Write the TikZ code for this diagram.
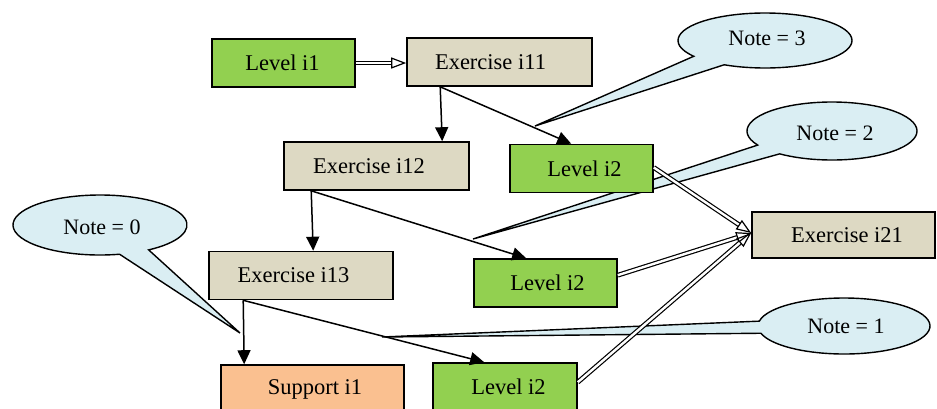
\documentclass[tikz,border=0pt]{standalone}
\usepackage{fontspec}
\setmainfont{Liberation Serif}
\usetikzlibrary{arrows.meta,calc}
\definecolor{lvlgreen}{HTML}{92D050}
\definecolor{extan}{HTML}{DDD9C3}
\definecolor{suporange}{HTML}{FAC090}
\definecolor{noteblue}{HTML}{DAEEF3}

\begin{document}
\begin{tikzpicture}[x=1pt,y=-1pt,
  box/.style={draw=black, line width=1.6pt, minimum height=48pt, inner sep=0pt},
  level/.style={box, fill=lvlgreen, minimum width=143pt},
  exer/.style={box, fill=extan, minimum width=185pt},
  supp/.style={box, fill=suporange, minimum width=183pt},
  boxtext/.style={font=\fontsize{22.5}{27}\selectfont, inner sep=0pt},
  note/.style={fill=noteblue, draw=black, line width=1.4pt, line join=miter},
  notetext/.style={font=\fontsize{22}{26}\selectfont, inner sep=0pt},
  link/.style={draw=black, line width=1.5pt, -{Triangle[length=14pt,width=13pt]}},
  flow/.style={draw=black, line width=1.2pt, double=white, double distance=2.4pt,
               -{Triangle[open, length=15pt, width=11pt]}},
]
\useasboundingbox (0,0) rectangle (937,408);
\clip (0,0) rectangle (937,408);

% ---- speech-bubble notes (drawn first, boxes sit on top of the tails)
\coordinate (c3) at (765,40.5);  \coordinate (t3) at (535,126);
\coordinate (c2) at (832,131);   \coordinate (t2) at (473,239);
\coordinate (c0) at (100,225);   \coordinate (t0) at (240,333);
\coordinate (c1) at (844,326);   \coordinate (t1) at (382,337);

\path[note] (t3) -- ($(c3)+(145:87 and 27.5)$)
  arc[start angle=145, end angle=478, x radius=87, y radius=27.5] -- cycle;
\path[note] (t2) -- ($(c2)+(151:85 and 29)$)
  arc[start angle=151, end angle=488, x radius=85, y radius=29] -- cycle;
\path[note] (t0) -- ($(c0)+(77:87 and 30)$)
  arc[start angle=77, end angle=416, x radius=87, y radius=30] -- cycle;
\path[note] (t1) -- ($(c1)+(190:86 and 28)$)
  arc[start angle=190, end angle=525, x radius=86, y radius=28] -- cycle;

\node[notetext] (n3) at ($(c3)+(2,-2)$) {Note = 3};
\node[notetext] (n2) at ($(c2)+(3,2)$) {Note = 2};
\node[notetext] (n0) at ($(c0)+(2,2)$) {Note = 0};
\node[notetext] (n1) at ($(c1)+(2,0)$) {Note = 1};

% ---- boxes
\node[level] (l1)  at (283.5,63)  [label={[boxtext,xshift=-1pt]center:Level i1}] {};
\node[exer]  (e11) at (499.5,62)  [label={[boxtext,xshift=-9pt]center:Exercise i11}] {};
\node[exer]  (e12) at (376.5,166) [label={[boxtext,xshift=-7.5pt]center:Exercise i12}] {};
\node[level] (l2a) at (581.5,168.5) [label={[boxtext,xshift=3pt]center:Level i2}] {};
\node[exer, minimum width=184pt] (e13) at (301,275.5) [label={[boxtext,xshift=-7.5pt]center:Exercise i13}] {};
\node[level] (l2b) at (545.5,283) [label={[boxtext,xshift=2pt]center:Level i2}] {};
\node[exer, minimum width=183pt, minimum height=46pt] (e21) at (843.5,235) [label={[boxtext,xshift=3.5pt]center:Exercise i21}] {};
\node[supp]  (s1)  at (312.5,389) [label={[boxtext,xshift=2.5pt]center:Support i1}] {};
\node[level, minimum width=144pt] (l2c) at (505,387) [label={[boxtext,xshift=3.5pt]center:Level i2}] {};

% ---- attachment points on the box edges
\coordinate (e11out) at ($(e11.south west)+(34,0)$);
\coordinate (e12out) at ($(e12.south west)+(28,0)$);
\coordinate (e13out) at ($(e13.south west)+(35,0)$);
\coordinate (e21in)  at ($(e21.west)+(0,-2)$);

% ---- plain arrows
\draw[link] (e11out) -- ($(e12.north west)+(159,0)$);
\draw[link] (e11out) -- ($(l2a.north west)+(62,0)$);
\draw[link] (e12out) -- ($(e13.north west)+(105,0)$);
\draw[link] (e12out) -- ($(l2b.north west)+(53,0)$);
\draw[link] (e13out) -- ($(s1.north west)+(24,0)$);
\draw[link] (e13out) -- ($(l2c.north west)+(52,0)$);

% ---- hollow double arrows
\draw[flow] (l1.east) -- (l1.east -| e11.west);
\draw[flow] ($(l2a.east)+(0,-1)$) -- (e21in);
\draw[flow] ($(l2b.north east)+(0,17)$) -- (e21in);
\draw[flow] ($(l2c.north east)+(0,20)$) -- (e21in);
\end{tikzpicture}
\end{document}
